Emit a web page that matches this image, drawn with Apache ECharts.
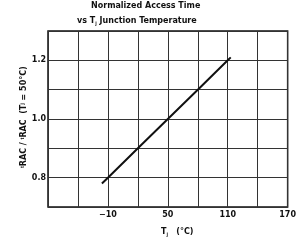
<!DOCTYPE html>
<html>
<head>
<meta charset="utf-8">
<script src="https://cdn.jsdelivr.net/npm/echarts@6/dist/echarts.min.js"></script>
<style>
  html, body { margin: 0; padding: 0; background: #fff; }
  #chart { width: 299px; height: 242px; }
</style>
</head>
<body>
<div id="chart"></div>
<script>
// 그래프 데이터
const tempValues = [-16, -10, 20, 50, 80, 110, 113];
const accessValues = [0.78, 0.8, 0.9, 1.0, 1.1, 1.2, 1.21];
const xTickLabels = [-10, 50, 110, 170];
const yTickLabels = [0.8, 1.0, 1.2];

const font = '"DejaVu Sans", sans-serif';
const chart = echarts.init(document.getElementById('chart'));

const options = {
  animation: false,
  backgroundColor: '#fff',
  grid: { left: 48, right: 2, top: 31, bottom: 35, show: true, borderColor: '#111', borderWidth: 1.5 },
  graphic: [
    {
      type: 'text', left: 91, top: 2,
      style: { text: 'Normalized Access Time', font: 'bold 8px ' + font, fill: '#111' }
    },
    {
      type: 'text', left: 77, top: 17,
      style: {
        text: 'vs T{s|j} Junction Temperature',
        font: 'bold 8px ' + font, fill: '#111',
        rich: { s: { fontSize: 5.5, fontWeight: 'bold', padding: [5, 0, 0, 0] } }
      }
    },
    {
      type: 'text', left: 161, top: 228,
      style: {
        text: 'T{s|j}   (°C)',
        font: 'bold 8px ' + font, fill: '#111',
        rich: { s: { fontSize: 5.5, fontWeight: 'bold', padding: [5, 0, 0, 0] } }
      }
    },
    {
      type: 'text', x: 19, y: 168, rotation: Math.PI / 2,
      style: {
        text: '{s|t}RAC / {s|t}RAC  (T{s|j} = 50°C)',
        font: 'bold 8px ' + font, fill: '#111',
        rich: { s: { fontSize: 5.5, fontWeight: 'bold', padding: [0, 0, 3, 0] } }
      }
    }
  ],
  xAxis: {
    type: 'value', min: -70, max: 170, interval: 30,
    axisLine: { show: false },
    axisTick: { show: false },
    splitLine: { show: true, lineStyle: { color: '#333', width: 1 } },
    axisLabel: {
      color: '#111', fontFamily: font, fontWeight: 'bold', fontSize: 8, margin: 4,
      formatter: v => xTickLabels.includes(Math.round(v)) ? (v < 0 ? '\u2212' + Math.abs(v) : String(v)) : ''
    }
  },
  yAxis: {
    type: 'value', min: 0.7, max: 1.3, interval: 0.1,
    axisLine: { show: false },
    axisTick: { show: false },
    splitLine: { show: true, lineStyle: { color: '#333', width: 1 } },
    axisLabel: {
      color: '#111', fontFamily: font, fontWeight: 'bold', fontSize: 8, margin: 2,
      formatter: v => {
        const r = Math.round(v * 10) / 10;
        return yTickLabels.some(t => Math.abs(t - r) < 1e-6) ? r.toFixed(1) : '';
      }
    }
  },
  series: [{
    type: 'line',
    data: tempValues.map((t, i) => [t, accessValues[i]]),
    symbol: 'none',
    lineStyle: { color: '#111', width: 2 }
  }]
};
chart.setOption(options);
</script>
</body>
</html>
